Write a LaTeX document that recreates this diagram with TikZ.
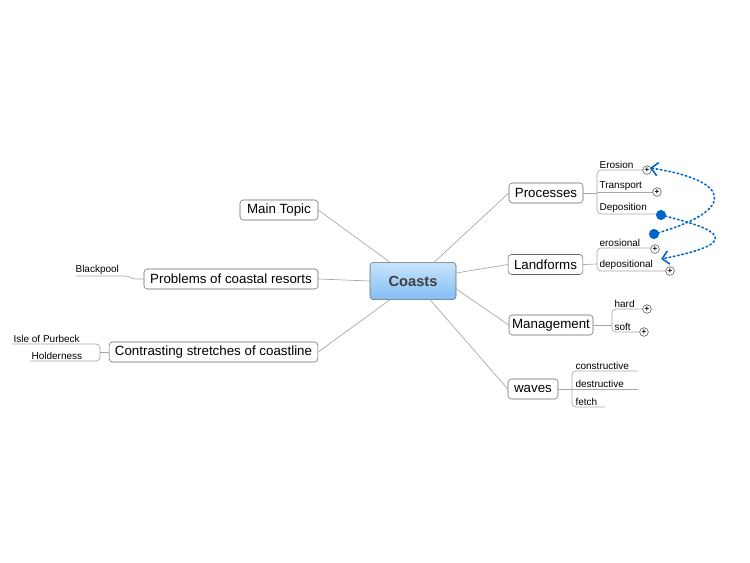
\documentclass[tikz,border=0pt]{standalone}
\usepackage{fontspec}
\setmainfont{Liberation Sans}
\usetikzlibrary{arrows.meta}
\definecolor{linkblue}{RGB}{0,102,204}
\definecolor{centtop}{RGB}{200,228,252}
\definecolor{centbot}{RGB}{130,190,245}
\tikzset{
  topic/.style={draw=gray!80!black, rounded corners=2.5pt, fill=white, font=\fontsize{10}{12}\selectfont, inner sep=0pt, minimum height=15pt},
  sub/.style={font=\fontsize{7.5}{9}\selectfont, inner sep=1pt, anchor=south west},
  branch/.style={draw=gray!70, line width=0.5pt},
  plus/.style={circle, draw=gray!60!black, fill=white, inner sep=0pt, minimum size=6.5pt, font=\fontsize{6}{6}\selectfont\bfseries},
  link/.style={linkblue, line width=1.2pt, dotted, line cap=round}
}
\begin{document}
\begin{tikzpicture}[x=0.75pt, y=-0.75pt]
		\useasboundingbox (0,0) rectangle (750,563);
		
		% central topic and main branches
		\node[topic, top color=centtop, bottom color=centbot, minimum width=64.5pt, minimum height=28pt, font=\fontsize{11}{13}\selectfont\bfseries, text=black!75] (coasts) at (413,281) {Coasts};
		\node[topic, minimum width=58.5pt] (main) at (279,210) {Main Topic};
		\node[topic, minimum width=130.5pt] (resorts) at (231,279) {Problems of coastal resorts};
		\node[topic, minimum width=156.5pt] (stretch) at (213.5,352) {Contrasting stretches of coastline};
		\node[topic, minimum width=55.5pt] (proc) at (546,193) {Processes};
		\node[topic, minimum width=56pt] (land) at (545.5,264.5) {Landforms};
		\node[topic, minimum width=63pt] (manage) at (551,325) {Management};
		\node[topic, minimum width=37.5pt] (waves) at (533,389) {waves};
		
		\draw[branch] (coasts.north west) ++(20,0) -- (main.east);
		\draw[branch] (coasts.west) -- (resorts.east);
		\draw[branch] (coasts.south west) ++(20,0) -- (stretch.east);
		\draw[branch] (coasts.north east) ++(-22,0) -- (proc.west);
		\draw[branch] (coasts.east) ++(0,-8) -- (land.west);
		\draw[branch] (coasts.east) ++(0,8) -- (manage.west);
		\draw[branch] (coasts.south east) ++(-26,0) -- (waves.west);
		
		% subtopics on the right
		\node[sub] (erosion) at (598,170) {Erosion};
		\node[sub] (transport) at (598,192) {Transport};
		\node[sub] (depo) at (598,214) {Deposition};
		\node[sub] (erosional) at (598,248) {erosional};
		\node[sub] (depositional) at (598,271) {depositional};
		\node[sub] (hard) at (613,309) {hard};
		\node[sub] (soft) at (613,332) {soft};
		\node[sub] (constr) at (574,371) {constructive};
		\node[sub] (destr) at (574,389) {destructive};
		\node[sub] (fetch) at (574,407) {fetch};
		
		\draw[branch] (proc.east) -- (597,193);
		\draw[branch, rounded corners=3pt] (645,170) -- (597,170) -- (597,214) -- (660,214);
		\draw[branch] (597,192) -- (655,192);
		\draw[branch] (land.east) -- (597,264);
		\draw[branch, rounded corners=3pt] (650,248) -- (597,248) -- (597,271) -- (668,271);
		\draw[branch] (manage.east) -- (612,325);
		\draw[branch, rounded corners=3pt] (645,309) -- (612,309) -- (612,332) -- (642,332);
		\draw[branch] (waves.east) -- (572,389);
		\draw[branch, rounded corners=3pt] (638,371) -- (572,371) -- (572,407) -- (605,407);
		\draw[branch] (572,389) -- (638,389);
		
		\node[plus] (p1) at (647,170) {+};
		\node[plus] (p2) at (657,192) {+};
		\node[plus] (p3) at (655,249) {+};
		\node[plus] (p4) at (670,271) {+};
		\node[plus] (p5) at (647,309) {+};
		\node[plus] (p6) at (644,332) {+};
		
		% subtopics on the left
		\node[sub] (blackpool) at (74,276) {Blackpool};
		\node[sub] (purbeck) at (12,344) {Isle of Purbeck};
		\node[sub] (holder) at (30,361) {Holderness};
		
		\draw[branch, rounded corners=2pt] (76,276) -- (128,276) -- (133,279) -- (resorts.west);
		\draw[branch, rounded corners=3pt] (12,344) -- (100,344) -- (100,361) -- (30,361);
		\draw[branch] (100,352) -- (stretch.west);
		
		% relationship links
		\coordinate (d1) at (661,215);
		\coordinate (e1) at (654,234);
		\fill[linkblue] (d1) circle (3.8pt);
		\fill[linkblue] (e1) circle (3.8pt);
		\draw[link, -{Straight Barb[length=5pt]}] (d1) .. controls (700,225) and (760,240) .. (661,259);
		\draw[link, -{Straight Barb[length=5pt]}] (e1) .. controls (740,210) and (730,180) .. (650,168);
	\end{tikzpicture}
\end{document}
